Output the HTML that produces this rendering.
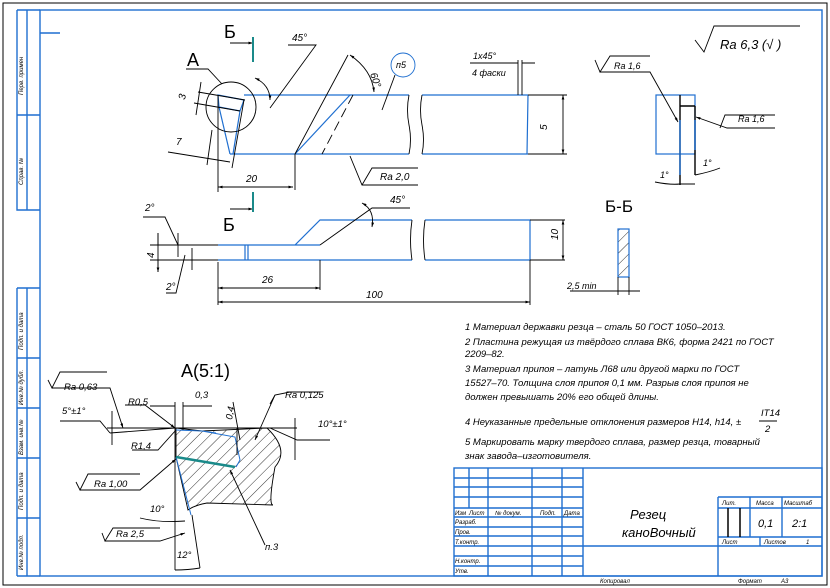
<!DOCTYPE html>
<html><head><meta charset="utf-8"><style>
html,body{margin:0;padding:0;background:#fff;width:830px;height:588px;overflow:hidden}
svg text{font-family:"Liberation Sans",sans-serif;font-style:italic;fill:#000}
</style></head><body>
<svg width="830" height="588" viewBox="0 0 830 588" xmlns="http://www.w3.org/2000/svg">
<defs>
<marker id="ar" viewBox="0 0 10 6" refX="10" refY="3" markerWidth="8" markerHeight="3" orient="auto-start-reverse"><path d="M0,0L10,3L0,6z" fill="#000"/></marker>
<pattern id="h" width="8" height="8" patternUnits="userSpaceOnUse" patternTransform="rotate(45)"><line x1="0" y1="0" x2="0" y2="8" stroke="#000" stroke-width="0.8"/></pattern>
</defs>
<rect x="3" y="3" width="824" height="582" fill="none" stroke="#000" stroke-width="1"/>
<!-- frame -->
<g fill="none" stroke="#1f6fd0" stroke-width="1.4">
<rect x="40" y="10" width="782" height="566"/>
<path d="M17,10H40M17,10V210H40M27,10V210M17,115H40M40,33H60"/>
<path d="M17,288H40M17,288V576M27,288V576M17,358H40M17,408H40M17,458H40M17,518H40M17,576H40"/>
<!-- title block -->
<rect x="454" y="468" width="368" height="108"/>
<path d="M454,478H583M454,487H583M454,497H583M454,508H583M454,517H583M454,527H583M454,536H583M454,546H583M454,556H583M454,566H583"/>
<path d="M469,468V508M488,468V576M532,468V576M562,468V576M583,468V576"/>
<path d="M718,497H822M718,508H822M718,537H822M718,546H822M583,546H822M718,497V576M750,497V537M782,497V537M760,537V546"/>
</g>
<path d="M728,508V537M740,508V537" stroke="#000" stroke-width="1.5"/>
<g font-size="6">
<text x="23" y="95" transform="rotate(-90 23 95)">Перв. примен</text>
<text x="23" y="185" transform="rotate(-90 23 185)">Справ. №</text>
<text x="23" y="350" transform="rotate(-90 23 350)">Подп. и дата</text>
<text x="23" y="405" transform="rotate(-90 23 405)">Инв.№ дубл.</text>
<text x="23" y="455" transform="rotate(-90 23 455)">Взам. инв.№</text>
<text x="23" y="510" transform="rotate(-90 23 510)">Подп. и дата</text>
<text x="23" y="570" transform="rotate(-90 23 570)">Инв.№ подл.</text>
<text x="455" y="515">Изм</text><text x="469" y="515">Лист</text><text x="495" y="515">№ докум.</text><text x="540" y="515">Подп.</text><text x="564" y="515">Дата</text>
<text x="455" y="524">Разраб.</text><text x="455" y="534">Пров.</text><text x="455" y="544">Т.контр.</text><text x="455" y="563">Н.контр.</text><text x="455" y="573">Утв.</text>
<text x="722" y="505">Лит.</text><text x="756" y="505">Масса</text><text x="784" y="505">Масштаб</text>
<text x="722" y="544">Лист</text><text x="764" y="544">Листов</text><text x="806" y="544">1</text>
<text x="600" y="583">Копировал</text><text x="738" y="583">Формат</text><text x="781" y="583">А3</text>
</g>
<text x="630" y="519" font-size="13">Резец</text>
<text x="622" y="537" font-size="13">каноВочный</text>
<text x="758" y="527" font-size="11">0,1</text><text x="792" y="527" font-size="11">2:1</text>

<!-- top view -->
<g fill="none" stroke="#1f6fd0" stroke-width="1.2">
<path d="M244,95H409M422,95H528M230,154H409M422,154H528M528,95L527,154"/>
<path d="M218,95L244,100L240,111L219,107ZM219,107L230,154M240,111L233,154"/>
<path d="M295,154L350,95"/>
</g>
<g fill="none" stroke="#000" stroke-width="0.9">
<path d="M409,95q-3,15 0,30q3,15 0,29M422,95q-3,15 0,30q3,15 0,29"/>
<path d="M528,95H567M528,154H567"/>
<path d="M563,95V154" marker-start="url(#ar)" marker-end="url(#ar)"/>
<path d="M348,55L295,154M295,154V190M218,95V192M244,100L232,168M212,130L207,165"/>
<path d="M353,95L322,154" stroke-dasharray="10,5"/>
<path d="M218,187H293" marker-start="url(#ar)" marker-end="url(#ar)"/>
<path d="M168,152L230,162"/>
<circle cx="231" cy="107" r="25"/>
<circle cx="403" cy="65" r="12" stroke="#1f6fd0"/>
<path d="M395,75L382,110"/>
<path d="M186,69H208L222,84"/>
<path d="M198,92L245,100M194,103L240,111M201,82L196,115"/>
<path d="M288,45H316L270,108"/>
<path d="M255,78Q270,85 270,100" marker-start="url(#ar)" marker-end="url(#ar)"/>
<path d="M350,55Q372,70 374,92" marker-start="url(#ar)" marker-end="url(#ar)"/>
<path d="M470,63H515M518,60V95M522,60V95M505,63H518M522,63H535"/>
<path d="M350,156L362,185H418M362,185L372,168H418"/>
<path d="M230,43H253" marker-end="url(#ar)"/>
<path d="M230,209H253" marker-end="url(#ar)"/>
</g>
<path d="M253,37V62M253,192V212" stroke="#1a8a8a" stroke-width="2"/>
<text x="224" y="38" font-size="18" style="font-style:normal">Б</text>
<text x="187" y="66" font-size="18" style="font-style:normal">А</text>
<text x="223" y="231" font-size="18" style="font-style:normal">Б</text>
<g font-size="10">
<text x="292" y="41">45°</text>
<text x="370" y="74" transform="rotate(70 370 74)">60°</text>
<text x="396" y="68" font-size="9">п5</text>
<text x="473" y="59" font-size="9">1x45°</text><text x="472" y="76" font-size="9">4 фаски</text>
<text x="547" y="130" transform="rotate(-90 547 130)">5</text>
<text x="246" y="182">20</text>
<text x="176" y="145">7</text>
<text x="185" y="100" transform="rotate(-80 185 100)">3</text>
<text x="380" y="180">Ra 2,0</text>
</g>

<!-- side view -->
<g fill="none" stroke="#1f6fd0" stroke-width="1.2">
<path d="M218,245H245L295,245L320,220H412M425,220H530V260H425M412,260H218M295,245H320M245,245V260M248,245V260M320,260H295"/>
</g>
<g fill="none" stroke="#000" stroke-width="0.9">
<path d="M412,220q-3,20 0,40M425,220q-3,20 0,40"/>
<path d="M530,220H565M530,260H565M150,245H218M150,260H218"/>
<path d="M563,220V260" marker-start="url(#ar)" marker-end="url(#ar)"/>
<path d="M158,233V272" />
<path d="M158,245V233M158,260V272" marker-end="url(#ar)"/>
<path d="M218,262V305M320,260V290M530,260V305"/>
<path d="M218,288H320" marker-start="url(#ar)" marker-end="url(#ar)"/>
<path d="M218,302H530" marker-start="url(#ar)" marker-end="url(#ar)"/>
<path d="M320,245L372,208H410"/>
<path d="M362,203Q375,210 372,227" marker-start="url(#ar)" marker-end="url(#ar)"/>
<path d="M143,217H165L178,245M185,255L176,293H166"/>
<path d="M178,233V257M192,248V270"/>
</g>
<g font-size="10">
<text x="390" y="203">45°</text>
<text x="145" y="211">2°</text>
<text x="166" y="290">2°</text>
<text x="145" y="257" transform="rotate(-90 150 253)">4</text>
<text x="262" y="283">26</text>
<text x="366" y="298">100</text>
<text x="553" y="245" transform="rotate(-90 553 240)">10</text>
</g>

<!-- right view -->
<rect x="656" y="95" width="39" height="59" fill="none" stroke="#1f6fd0" stroke-width="1.2"/>
<path d="M680,95V185M695,106V175M680,106H695" fill="none" stroke="#000" stroke-width="1.4"/>
<path d="M680,120V175M695,120V150" stroke="#1f6fd0" stroke-width="1.4"/>
<g fill="none" stroke="#000" stroke-width="0.9">
<path d="M600,72H650L678,122" marker-end="url(#ar)"/>
<path d="M595,60L600,72L610,56H650"/>
<path d="M775,128H727L696,117" marker-end="url(#ar)"/>
<path d="M720,128L725,115H775"/>
<path d="M655,182Q670,185 680,184M695,175Q710,172 720,168M680,184H695"/>
<path d="M695,40L704,52L714,26H800"/>
</g>
<g font-size="9">
<text x="614" y="69">Ra 1,6</text>
<text x="738" y="122">Ra 1,6</text>
<text x="660" y="178">1°</text>
<text x="703" y="166">1°</text>
</g>
<text x="720" y="49" font-size="13">Ra 6,3 (√ )</text>
<text x="605" y="212" font-size="17" style="font-style:normal">Б-Б</text>
<rect x="618" y="229" width="11" height="48" fill="url(#h)" stroke="#1f6fd0" stroke-width="1.2"/>
<path d="M618,277V295M629,277V295M570,291H640" stroke="#000" stroke-width="0.9" fill="none"/>
<text x="567" y="289" font-size="9">2,5 min</text>

<!-- notes -->
<g font-size="9.5">
<text x="465" y="330">1 Материал державки резца – сталь 50 ГОСТ 1050–2013.</text>
<text x="465" y="345">2 Пластина режущая из твёрдого сплава ВК6, форма 2421 по ГОСТ</text>
<text x="465" y="357">2209–82.</text>
<text x="465" y="372">3 Материал припоя – латунь Л68 или другой марки по ГОСТ</text>
<text x="465" y="386">15527–70. Толщина слоя припоя 0,1 мм. Разрыв слоя припоя не</text>
<text x="465" y="400">должен превышать 20% его общей длины.</text>
<text x="465" y="425">4  Неуказанные предельные отклонения размеров Н14, h14, ±</text>
<text x="761" y="416">IT14</text><text x="765" y="432">2</text>
<text x="465" y="445">5 Маркировать марку твердого сплава, размер резца, товарный</text>
<text x="465" y="459">знак завода–изготовителя.</text>
</g>
<path d="M759,421H777" stroke="#000"/>

<!-- detail A -->
<text x="181" y="377" font-size="18" style="font-style:normal">А(5:1)</text>
<path d="M176,428L202,431L267,428Q290,450 275,467Q268,505 273,505L207,503Q195,505 188,510L176,457Z" fill="url(#h)" stroke="#000" stroke-width="0.9"/>
<g fill="none" stroke="#1f6fd0" stroke-width="1">
<path d="M176,430L202,431L235,437L240,460L236,467M176,457L191,515M202,431L216,433"/>
</g>
<path d="M176,457L235,467" stroke="#1a8a8a" stroke-width="2.5"/>
<g fill="none" stroke="#000" stroke-width="0.9">
<path d="M107,428H297M175,402V570M183,402V430M270,428L297,440H330"/>
<path d="M110,433L175,428M60,421H100L110,433"/>
<path d="M52,388H110L123,428" marker-end="url(#ar)"/>
<path d="M48,380L52,388L60,372H107"/>
<path d="M112,411V445M295,418V460"/>
<path d="M125,405H145L175,428" marker-end="url(#ar)"/>
<path d="M132,450H158L176,430"/>
<path d="M80,490H140L176,459" marker-end="url(#ar)"/>
<path d="M76,482L80,490L88,474H140"/>
<path d="M150,406H175M183,406H212"/>
<path d="M233,402L240,440M237,428V455"/>
<path d="M275,395L255,440" marker-end="url(#ar)"/>
<path d="M270,404L275,395L290,392H320"/>
<path d="M265,545L230,470" marker-end="url(#ar)"/>
<path d="M105,541H160L185,533" marker-end="url(#ar)"/>
<path d="M102,533L105,541L113,528H160"/>
<path d="M140,518Q160,523 185,521M175,570Q188,570 200,568M192,515L200,568"/>
</g>
<g font-size="9.5">
<text x="64" y="390">Ra 0,63</text>
<text x="128" y="405">R0,5</text>
<text x="195" y="398">0,3</text>
<text x="62" y="414">5°±1°</text>
<text x="131" y="449">R1,4</text>
<text x="94" y="487">Ra 1,00</text>
<text x="150" y="512">10°</text>
<text x="116" y="537">Ra 2,5</text>
<text x="177" y="558">12°</text>
<text x="265" y="550">п.3</text>
<text x="285" y="398">Ra 0,125</text>
<text x="318" y="427">10°±1°</text>
<text x="232" y="420" transform="rotate(-80 232 420)">0,4</text>
</g>
</svg>
</body></html>
